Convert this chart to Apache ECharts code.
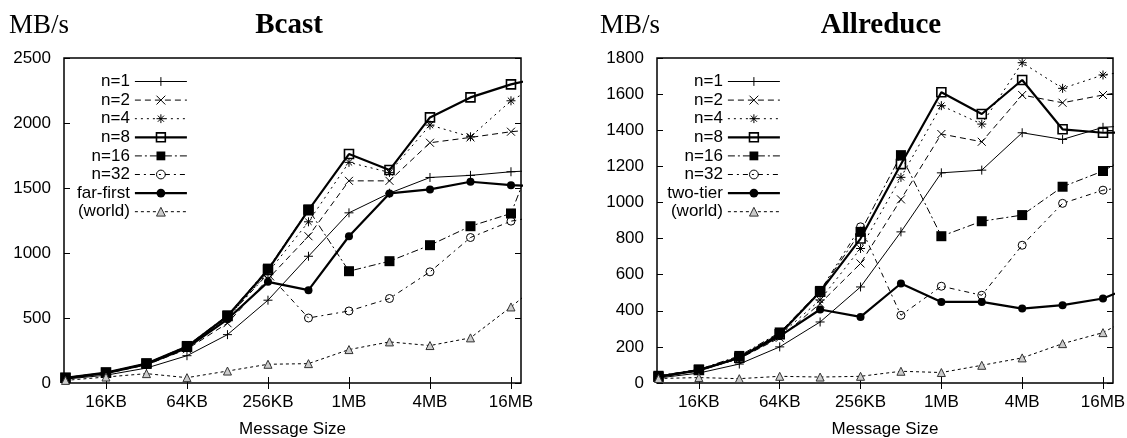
<!DOCTYPE html>
<html>
<head>
<meta charset="utf-8">
<script src="https://cdn.jsdelivr.net/npm/echarts@6/dist/echarts.min.js"></script>
<style>
html, body { margin: 0; padding: 0; background: #fff; }
#chart { width: 1127px; height: 438px; }
</style>
</head>
<body>
<div id="chart"></div>
<script>
// message sizes in KB (8KB .. 32MB, last point falls outside the plot and is clipped)
var sizesKB = [8, 16, 32, 64, 128, 256, 512, 1024, 2048, 4096, 8192, 16384, 32768];
var xTickVals = [16, 64, 256, 1024, 4096, 16384];
var xTickNames = ['16KB', '64KB', '256KB', '1MB', '4MB', '16MB'];

// Bcast, MB/s
var bcastN1    = [30, 60, 115, 210, 372, 637, 975, 1309, 1460, 1581, 1597, 1625, 1640];
var bcastN2    = [35, 72, 140, 260, 460, 800, 1129, 1555, 1555, 1848, 1889, 1933, 1960];
var bcastN4    = [38, 78, 148, 275, 500, 850, 1240, 1697, 1620, 1984, 1894, 2171, 2350];
var bcastN8    = [40, 80, 150, 280, 515, 870, 1330, 1761, 1638, 2043, 2197, 2297, 2366];
var bcastN16   = [40, 80, 150, 285, 520, 880, 1335, 860, 937, 1060, 1206, 1304, 2100];
var bcastN32   = [38, 75, 145, 275, 505, 840, 500, 554, 650, 855, 1119, 1245, 1300];
var bcastFar   = [38, 75, 145, 270, 490, 778, 714, 1129, 1458, 1489, 1548, 1522, 1510];
var bcastWorld = [20, 46, 72, 41, 92, 144, 149, 257, 316, 288, 347, 585, 840];

// Allreduce, MB/s
var allredN1    = [28, 55, 105, 200, 338, 532, 837, 1164, 1179, 1386, 1349, 1416, 1430];
var allredN2    = [32, 68, 135, 250, 440, 662, 1017, 1379, 1336, 1595, 1552, 1595, 1630];
var allredN4    = [33, 70, 140, 265, 460, 745, 1139, 1536, 1434, 1774, 1632, 1706, 1740];
var allredN8    = [35, 72, 140, 270, 505, 800, 1212, 1610, 1490, 1678, 1405, 1386, 1390];
var allredN16   = [40, 75, 150, 280, 510, 837, 1262, 813, 896, 930, 1087, 1174, 1300];
var allredN32   = [38, 72, 145, 275, 510, 865, 375, 536, 486, 763, 995, 1068, 1100];
var allredTwo   = [35, 70, 140, 260, 407, 366, 551, 449, 449, 412, 431, 468, 560];
var allredWorld = [25, 30, 24, 37, 33, 37, 65, 58, 98, 139, 218, 279, 400];

var FONT = 'Liberation Sans, Arial, sans-serif';
var SERIF = 'Liberation Serif, Times New Roman, serif';
var CLEAR = 'rgba(0,0,0,0)';

var PLUS  = 'path://M5,0L5,10M0,5L10,5';
var CROSS = 'path://M0,0L10,10M10,0L0,10';
var STAR  = 'path://M5,0L5,10M0,5L10,5M1.5,1.5L8.5,8.5M8.5,1.5L1.5,8.5';

// gnuplot-like point/line types
var looks = {
    'n=1':       { symbol: PLUS,   size: 9,  fill: CLEAR, stroke: '#000', bw: 1,   lw: 1,   dash: 'solid' },
    'n=2':       { symbol: CROSS,  size: 8,  fill: CLEAR, stroke: '#000', bw: 1,   lw: 1,   dash: [6, 4] },
    'n=4':       { symbol: STAR,   size: 9,  fill: CLEAR, stroke: '#000', bw: 1,   lw: 1,   dash: [2, 4] },
    'n=8':       { symbol: 'rect', size: 9,  fill: CLEAR, stroke: '#000', bw: 1.6, lw: 2.2, dash: 'solid' },
    'n=16':      { symbol: 'rect', size: 10, fill: '#000', stroke: '#000', bw: 0,  lw: 1,   dash: [7, 3, 2, 3] },
    'n=32':      { symbol: 'circle', size: 8, fill: CLEAR, stroke: '#000', bw: 1,  lw: 1,   dash: [5, 4, 2, 4] },
    'far-first': { symbol: 'circle', size: 8, fill: '#000', stroke: '#000', bw: 0, lw: 2.2, dash: 'solid' },
    'two-tier':  { symbol: 'circle', size: 8, fill: '#000', stroke: '#000', bw: 0, lw: 2.2, dash: 'solid' },
    '(world)':   { symbol: 'triangle', size: 8, fill: '#ccc', stroke: '#333', bw: 1, lw: 1, dash: [3, 3] }
};

function mk(name, vals, g) {
    var l = looks[name];
    return {
        name: name, type: 'line', xAxisIndex: g * 2, yAxisIndex: g * 2,
        data: sizesKB.map(function (s, i) { return [s, vals[i]]; }),
        symbol: l.symbol, symbolSize: l.size, showSymbol: true, clip: true,
        itemStyle: { color: l.fill, borderColor: l.stroke, borderWidth: l.bw },
        lineStyle: { color: '#000', width: l.lw, type: l.dash },
        emphasis: { disabled: true }, animation: false
    };
}

function tickName(v) {
    for (var i = 0; i < xTickVals.length; i++)
        if (Math.abs(Math.log2(v) - Math.log2(xTickVals[i])) < 0.01) return xTickNames[i];
    return '';
}

function xAx(g, pos) {
    var main = pos === 'bottom';
    return {
        type: 'log', logBase: 2, gridIndex: g, position: pos, min: 7.8, max: 19450,
        axisLine: { show: false }, splitLine: { show: false }, minorTick: { show: false },
        axisTick: { show: true, inside: true, length: 6, customValues: xTickVals, lineStyle: { color: '#000', width: 1 } },
        axisLabel: { show: main, customValues: xTickVals, formatter: tickName, fontSize: 17, color: '#000', fontFamily: FONT, margin: 11 },
        name: main ? 'Message Size' : '', nameLocation: 'middle', nameGap: 38,
        nameTextStyle: { fontSize: 17, color: '#000', fontFamily: FONT }
    };
}

function yAx(g, pos, max, step) {
    var main = pos === 'left';
    return {
        type: 'value', gridIndex: g, position: pos, min: 0, max: max, interval: step,
        axisLine: { show: false }, splitLine: { show: false },
        axisTick: { show: true, inside: true, length: 6, lineStyle: { color: '#000', width: 1 } },
        axisLabel: { show: main, fontSize: 17, color: '#000', fontFamily: FONT, margin: 13,
            formatter: function (v) { return String(v); } }
    };
}

function legendFor(names, right) {
    return {
        data: names, orient: 'vertical', align: 'right', right: right, top: 68,
        itemWidth: 52, itemHeight: 11, itemGap: 1.6, selectedMode: false,
        textStyle: { fontSize: 17, color: '#000', fontFamily: FONT },
        lineStyle: { width: 'inherit' }, itemStyle: { borderWidth: 'inherit' }
    };
}

var titleFont = { fontFamily: SERIF, fontSize: 27, fontWeight: 'normal', color: '#000' };
var boldFont = { fontFamily: SERIF, fontSize: 29, fontWeight: 'bold', color: '#000' };

var chart = echarts.init(document.getElementById('chart'), null, { renderer: 'canvas' });
chart.setOption({
    animation: false,
    backgroundColor: '#fff',
    title: [
        { text: 'MB/s', left: 9, top: 12, padding: 0, textStyle: titleFont },
        { text: 'Bcast', left: 289, top: 11, padding: 0, textAlign: 'center', textStyle: boldFont },
        { text: 'MB/s', left: 600, top: 12, padding: 0, textStyle: titleFont },
        { text: 'Allreduce', left: 881, top: 11, padding: 0, textAlign: 'center', textStyle: boldFont }
    ],
    legend: [
        legendFor(['n=1', 'n=2', 'n=4', 'n=8', 'n=16', 'n=32', 'far-first', '(world)'], 934),
        legendFor(['n=1', 'n=2', 'n=4', 'n=8', 'n=16', 'n=32', 'two-tier', '(world)'], 341)
    ],
    grid: [
        { left: 64, top: 58, width: 457, height: 325, outerBoundsMode: 'none', show: true, borderColor: '#000', borderWidth: 1.5, backgroundColor: CLEAR },
        { left: 657, top: 58, width: 456, height: 325, outerBoundsMode: 'none', show: true, borderColor: '#000', borderWidth: 1.5, backgroundColor: CLEAR }
    ],
    xAxis: [xAx(0, 'bottom'), xAx(0, 'top'), xAx(1, 'bottom'), xAx(1, 'top')],
    yAxis: [yAx(0, 'left', 2500, 500), yAx(0, 'right', 2500, 500), yAx(1, 'left', 1800, 200), yAx(1, 'right', 1800, 200)],
    series: [
        mk('n=1', bcastN1, 0), mk('n=2', bcastN2, 0), mk('n=4', bcastN4, 0), mk('n=8', bcastN8, 0),
        mk('n=16', bcastN16, 0), mk('n=32', bcastN32, 0), mk('far-first', bcastFar, 0), mk('(world)', bcastWorld, 0),
        mk('n=1', allredN1, 1), mk('n=2', allredN2, 1), mk('n=4', allredN4, 1), mk('n=8', allredN8, 1),
        mk('n=16', allredN16, 1), mk('n=32', allredN32, 1), mk('two-tier', allredTwo, 1), mk('(world)', allredWorld, 1)
    ]
});
</script>
</body>
</html>
